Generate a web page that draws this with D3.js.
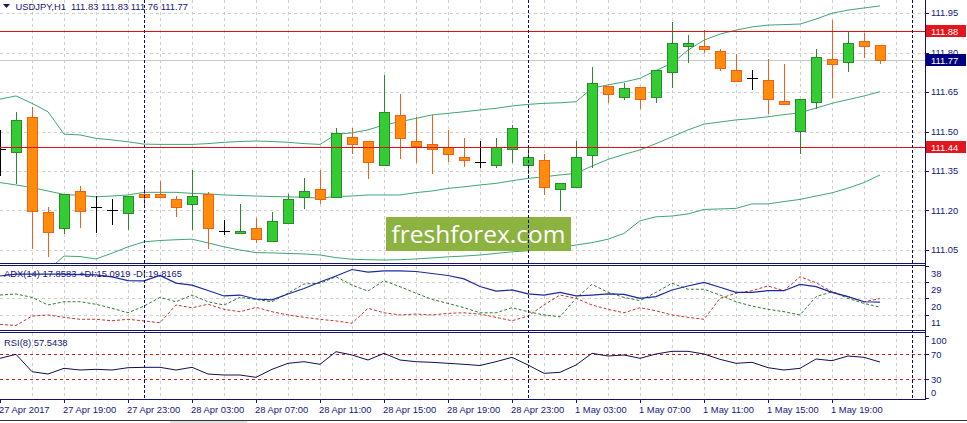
<!DOCTYPE html>
<html><head><meta charset="utf-8">
<script src="https://cdn.jsdelivr.net/npm/d3@7/dist/d3.min.js"></script>
<style>
html,body{margin:0;padding:0;background:#fff;overflow:hidden;}
svg{display:block;}
text{font-family:"Liberation Sans",Arial,sans-serif;font-size:9.4px;fill:#16167a;white-space:pre;}
</style></head><body>
<svg id="c" width="967" height="423"></svg>
<script>
// ---------- DATA ----------
const titleText = "USDJPY,H1  111.83 111.83 111.76 111.77";
const adxLegend = "ADX(14) 17.8583 +DI:15.0919 -DI:19.8165";
const rsiLegend = "RSI(8) 57.5438";

const open  = [111.434,111.421,111.554,111.193,111.132,111.273,111.213,111.201,111.192,111.263,
               111.263,111.244,111.223,111.263,111.121,111.113,111.132,111.083,111.151,111.252,
               111.282,111.252,111.480,111.464,111.372,111.561,111.463,111.451,111.442,111.402,
               111.385,111.372,111.432,111.372,111.392,111.280,111.290,111.412,111.673,111.632,
               111.670,111.632,111.725,111.825,111.825,111.806,111.732,111.702,111.694,111.616,
               111.503,111.613,111.774,111.763,111.843,111.83];
const high  = [111.506,111.575,111.594,111.214,111.262,111.293,111.255,111.242,111.255,111.284,
               111.313,111.255,111.354,111.271,111.164,111.225,111.170,111.193,111.261,111.324,
               111.354,111.512,111.512,111.464,111.715,111.642,111.554,111.563,111.506,111.474,
               111.464,111.474,111.525,111.445,111.414,111.303,111.464,111.746,111.673,111.683,
               111.670,111.732,111.917,111.866,111.885,111.812,111.794,111.732,111.775,111.756,
               111.622,111.812,111.923,111.882,111.874,111.83];
const low   = [111.335,111.303,111.059,111.027,111.113,111.138,111.119,111.149,111.130,111.221,
               111.252,111.180,111.130,111.059,111.111,111.113,111.081,111.083,111.151,111.210,
               111.230,111.252,111.417,111.322,111.372,111.400,111.383,111.341,111.389,111.370,
               111.364,111.364,111.383,111.341,111.261,111.202,111.290,111.366,111.613,111.622,
               111.590,111.613,111.670,111.763,111.803,111.732,111.693,111.662,111.571,111.603,
               111.419,111.588,111.632,111.731,111.782,111.76];
const close = [111.434,111.544,111.199,111.119,111.261,111.199,111.213,111.201,111.255,111.252,
               111.252,111.212,111.255,111.132,111.121,111.121,111.091,111.161,111.242,111.273,
               111.242,111.493,111.451,111.383,111.573,111.474,111.444,111.432,111.413,111.391,
               111.385,111.442,111.512,111.402,111.290,111.303,111.402,111.683,111.641,111.664,
               111.622,111.732,111.835,111.835,111.812,111.742,111.693,111.702,111.622,111.603,
               111.622,111.782,111.755,111.835,111.824,111.77];

const bbUpper = [111.623,111.635,111.607,111.575,111.490,111.487,111.474,111.468,111.461,111.452,
                 111.451,111.451,111.451,111.454,111.459,111.462,111.464,111.462,111.459,111.454,
                 111.451,111.489,111.495,111.506,111.525,111.537,111.550,111.563,111.569,111.575,
                 111.582,111.588,111.597,111.603,111.607,111.609,111.613,111.664,111.677,111.688,
                 111.702,111.732,111.759,111.809,111.847,111.870,111.885,111.897,111.904,111.906,
                 111.908,111.927,111.949,111.961,111.969,111.977];
const bbMiddle = [111.306,111.297,111.287,111.274,111.261,111.257,111.252,111.255,111.259,111.269,
                  111.269,111.269,111.265,111.263,111.259,111.257,111.255,111.253,111.252,111.250,
                  111.247,111.253,111.255,111.259,111.259,111.259,111.268,111.274,111.284,111.290,
                  111.297,111.303,111.313,111.322,111.328,111.335,111.341,111.369,111.394,111.413,
                  111.430,111.454,111.480,111.506,111.528,111.536,111.544,111.549,111.556,111.564,
                  111.571,111.589,111.607,111.621,111.635,111.651];
const bbLower = [110.985,110.959,110.966,110.974,111.027,111.025,111.016,111.038,111.062,111.081,
                 111.086,111.089,111.091,111.077,111.062,111.050,111.040,111.039,111.037,111.035,
                 111.031,111.021,111.015,111.013,111.012,111.013,111.016,111.020,111.024,111.027,
                 111.031,111.037,111.043,111.047,111.053,111.060,111.069,111.078,111.091,111.113,
                 111.161,111.176,111.179,111.187,111.204,111.206,111.208,111.225,111.225,111.234,
                 111.242,111.255,111.267,111.285,111.306,111.335];

const adx     = [32.3,33.4,33.4,33.4,33.4,33.1,32.9,31.8,29.8,29.6,
                 32.6,28.4,27.3,24.3,21.3,21.8,19.6,19.1,22.4,25.4,
                 29.0,32.3,35.9,34.5,35.1,35.1,34.8,33.7,32.6,30.7,
                 26.5,24.0,24.6,22.4,21.8,23.3,21.3,21.8,22.4,22.2,
                 20.0,20.9,24.6,26.8,28.8,26.1,23.3,23.3,24.2,24.2,
                 27.7,26.4,23.3,20.9,18.1,17.86];
const plusDI  = [21.8,22.4,20.5,16.3,18.1,18.1,16.7,14.5,12.0,15.7,
                 20.5,18.1,21.8,18.1,16.3,20.5,19.4,18.1,22.8,27.9,
                 28.3,31.9,27.3,24.0,29.7,26.4,22.8,19.4,17.2,14.8,
                 12.0,12.0,14.8,12.6,10.8,9.8,20.0,27.7,23.3,20.5,
                 18.7,23.3,28.3,25.0,25.0,21.8,18.1,15.7,13.9,12.6,
                 10.8,20.9,23.6,20.0,17.2,15.09];
const minusDI = [5.6,5.0,10.2,10.8,9.5,8.4,8.4,7.6,8.4,7.5,
                 6.5,16.3,14.8,16.7,13.9,12.6,15.0,12.6,10.8,9.5,
                 8.4,7.5,6.2,14.5,12.0,10.8,11.3,10.8,11.7,12.0,
                 11.3,9.5,7.6,10.2,16.3,21.8,20.0,16.3,13.9,12.0,
                 14.8,13.1,10.8,9.5,8.4,20.0,22.8,24.2,26.8,24.2,
                 31.9,28.6,23.6,20.9,18.1,19.82];
const rsi     = [63.5,69.9,42.1,38.4,47.5,44.8,45.9,44.8,48.5,49.1,
                 49.1,44.8,49.1,38.4,36.8,36.8,33.1,45.9,55.5,58.1,
                 53.9,74.1,68.8,60.8,71.5,60.8,58.1,57.1,55.5,53.9,
                 52.0,58.1,65.1,52.8,39.5,41.1,52.8,71.5,67.2,68.8,
                 63.5,70.4,74.7,74.7,70.4,61.9,55.5,57.1,48.5,44.8,
                 47.5,62.4,59.7,67.2,65.1,57.54];

const priceTicks = [111.95,111.80,111.65,111.50,111.35,111.20,111.05];
const levels = [111.88,111.44];
const bid = 111.77;
const adxTicks = [38,29,20,11];
const rsiTicks = [100,70,30,0];
const rsiLevels = [70,30];
const timeLabels = ["27 Apr 2017","27 Apr 19:00","27 Apr 23:00","28 Apr 03:00","28 Apr 07:00",
  "28 Apr 11:00","28 Apr 15:00","28 Apr 19:00","28 Apr 23:00","1 May 03:00","1 May 07:00",
  "1 May 11:00","1 May 15:00","1 May 19:00"];
const timeLabelIndex = [0,4,8,12,16,20,24,28,32,36,40,44,48,52];
const daySeparators = [9,33,57];
const watermark = "freshforex.com";

// ---------- LAYOUT ----------
const svg = d3.select("#c");
const axisX = 925;
const navy = "#14146e";
const x = d3.scaleLinear().domain([0,55]).range([0,880]);
const y = d3.scaleLinear().domain([111.05,111.95]).range([250,13]);
const yA = d3.scaleLinear().domain([11,29]).range([314.6,282]);
const yR = d3.scaleLinear().domain([0,100]).range([398,335.5]);
const P = {main:[0,263], adx:[266,330], rsi:[333,399]};

const defs = svg.append("defs");
Object.entries(P).forEach(([k,[t,b]])=>{
  defs.append("clipPath").attr("id","clip-"+k).append("rect")
    .attr("x",0).attr("y",t).attr("width",axisX).attr("height",b-t);
});
const crisp = v => Math.round(v)+0.5;

// vertical grid in all panels
const gridIdx = d3.range(2,57,2);
Object.entries(P).forEach(([k,[t,b]])=>{
  svg.append("g").selectAll("line").data(gridIdx).join("line")
    .attr("x1",d=>crisp(x(d))).attr("x2",d=>crisp(x(d)))
    .attr("y1",t).attr("y2",b)
    .attr("stroke","#cfcfcf").attr("stroke-dasharray","3,3");
});
// horizontal grid main
svg.append("g").selectAll("line").data(priceTicks).join("line")
  .attr("x1",0).attr("x2",axisX).attr("y1",d=>crisp(y(d))).attr("y2",d=>crisp(y(d)))
  .attr("stroke","#cfcfcf").attr("stroke-dasharray","3,3");
// horizontal grid adx
svg.append("g").selectAll("line").data(adxTicks.slice(1)).join("line")
  .attr("x1",0).attr("x2",axisX).attr("y1",d=>crisp(yA(d))).attr("y2",d=>crisp(yA(d)))
  .attr("stroke","#cfcfcf").attr("stroke-dasharray","3,3");

// ---------- MAIN PANEL ----------
const gm = svg.append("g").attr("clip-path","url(#clip-main)");
// bid line
gm.append("line").attr("x1",0).attr("x2",axisX).attr("y1",crisp(y(bid))).attr("y2",crisp(y(bid)))
  .attr("stroke","#c8c8c8");
// bands
const bandLine = d3.line().x((d,i)=>x(i)).y(d=>y(d));
[bbUpper,bbMiddle,bbLower].forEach(arr=>{
  gm.append("path").attr("d",bandLine(arr)).attr("fill","none")
    .attr("stroke","#3fa774").attr("stroke-width",1);
});
// candles
const candles = d3.range(open.length).map(i=>({i,o:open[i],h:high[i],l:low[i],c:close[i]}));
const cg = gm.append("g");
candles.forEach(d=>{
  const cx = Math.round(x(d.i));
  const up = d.c>d.o, dn = d.c<d.o;
  const wick = up ? "#2b8a2b" : dn ? "#f0601a" : "#000";
  cg.append("line").attr("x1",cx+0.5).attr("x2",cx+0.5)
    .attr("y1",Math.round(y(d.h))).attr("y2",Math.round(y(d.l))+1).attr("stroke",wick);
  if(!up && !dn){
    cg.append("line").attr("x1",cx-5).attr("x2",cx+6)
      .attr("y1",crisp(y(d.o))).attr("y2",crisp(y(d.o))).attr("stroke","#000");
  } else {
    const top = Math.round(y(Math.max(d.o,d.c))), bot = Math.round(y(Math.min(d.o,d.c)));
    cg.append("rect").attr("x",cx-4.5).attr("y",top+0.5)
      .attr("width",10).attr("height",Math.max(bot-top,1))
      .attr("fill",up?"#33cc33":"#ff8c0a").attr("stroke",wick);
  }
});
// horizontal levels (drawn above candles)
svg.append("g").selectAll("rect").data(levels).join("rect")
  .attr("x",0).attr("width",axisX).attr("y",d=>Math.round(y(d))).attr("height",1)
  .attr("fill","#e01010").attr("shape-rendering","crispEdges");
// watermark
const wm = svg.append("g");
wm.append("rect").attr("x",386).attr("y",217).attr("width",185).attr("height",34).attr("fill","#8cb23f");
wm.append("text").attr("x",478.5).attr("y",243).attr("text-anchor","middle")
  .style("font-family","'Open Sans','Noto Sans',sans-serif").style("font-size","24.5px")
  .style("fill","#fff").text(watermark);

// ---------- ADX PANEL ----------
const ga = svg.append("g").attr("clip-path","url(#clip-adx)");
const la = arr => d3.line().x((d,i)=>x(i)).y(d=>yA(d))(arr);
ga.append("path").attr("d",la(plusDI)).attr("fill","none").attr("stroke","#2e7d32").attr("stroke-dasharray","3,2");
ga.append("path").attr("d",la(minusDI)).attr("fill","none").attr("stroke","#c0392b").attr("stroke-dasharray","3,2");
ga.append("path").attr("d",la(adx)).attr("fill","none").attr("stroke","#1c2a9c").attr("stroke-width",1.2);
svg.append("text").attr("x",4).attr("y",277).text(adxLegend);

// ---------- RSI PANEL ----------
const gr = svg.append("g").attr("clip-path","url(#clip-rsi)");
gr.selectAll(".rl").data(rsiLevels).join("line")
  .attr("x1",0).attr("x2",axisX).attr("y1",d=>crisp(yR(d))).attr("y2",d=>crisp(yR(d)))
  .attr("stroke","#d01c1c").attr("stroke-dasharray","3,3");
gr.append("path").attr("d",d3.line().x((d,i)=>x(i)).y(d=>yR(d))(rsi))
  .attr("fill","none").attr("stroke","#101050");
svg.append("text").attr("x",4).attr("y",346).text(rsiLegend);

// ---------- SEPARATORS & FRAMES ----------
svg.append("g").selectAll("line").data(daySeparators).join("line")
  .attr("x1",d=>crisp(x(d))).attr("x2",d=>crisp(x(d))).attr("y1",0).attr("y2",399)
  .attr("stroke","#0a0a60").attr("stroke-dasharray","3,2");
const frame = svg.append("g").attr("stroke",navy);
[263.5,265.5,330.5,332.5,399.5].forEach(v=>frame.append("line").attr("x1",0).attr("x2",axisX).attr("y1",v).attr("y2",v));
frame.append("line").attr("x1",axisX+0.5).attr("x2",axisX+0.5).attr("y1",0).attr("y2",400);

// ---------- AXES ----------
const ax = svg.append("g");
priceTicks.forEach(t=>{
  ax.append("line").attr("x1",axisX).attr("x2",axisX+4).attr("y1",crisp(y(t))).attr("y2",crisp(y(t))).attr("stroke",navy);
  ax.append("text").attr("x",931).attr("y",y(t)+3.3).text(t.toFixed(2));
});
adxTicks.forEach(t=>{
  ax.append("line").attr("x1",axisX).attr("x2",axisX+4).attr("y1",crisp(yA(t))).attr("y2",crisp(yA(t))).attr("stroke",navy);
  ax.append("text").attr("x",931).attr("y",yA(t)+8+3.3).text(t);
});
rsiTicks.forEach(t=>{
  const yy = Math.max(P.rsi[0]+7.5, Math.min(P.rsi[1]-6.5, yR(t)));
  ax.append("line").attr("x1",axisX).attr("x2",axisX+4).attr("y1",crisp(yR(t))).attr("y2",crisp(yR(t))).attr("stroke",navy);
  ax.append("text").attr("x",931).attr("y",yy+3.3).text(t);
});
timeLabelIndex.forEach((idx,k)=>{
  const xx = Math.round(x(idx));
  ax.append("line").attr("x1",xx+0.5).attr("x2",xx+0.5).attr("y1",399).attr("y2",403).attr("stroke",navy);
  ax.append("text").attr("x",xx-1).attr("y",412.5).text(timeLabels[k]);
});

// price labels on axis
const boxes = [{v:levels[0],c:"#e3161e"},{v:levels[1],c:"#e3161e"},{v:bid,c:"#000080"}];
boxes.forEach(b=>{
  const yy = y(b.v);
  svg.append("rect").attr("x",926).attr("y",Math.round(yy)-6).attr("width",40).attr("height",12).attr("fill",b.c);
  svg.append("text").attr("x",931).attr("y",yy+3.3).style("fill","#fff").text(b.v.toFixed(2));
});

// title
svg.append("path").attr("d","M3,4 L10,4 L6.5,8 Z").attr("fill",navy);
svg.append("text").attr("x",15.5).attr("y",9.5).text(titleText);

// window bottom border
svg.append("line").attr("x1",0).attr("x2",967).attr("y1",420.5).attr("y2",420.5).attr("stroke","#333");
svg.append("rect").attr("x",170).attr("y",421).attr("width",77).attr("height",2).attr("fill","#e0e0e0");
</script>
</body></html>
